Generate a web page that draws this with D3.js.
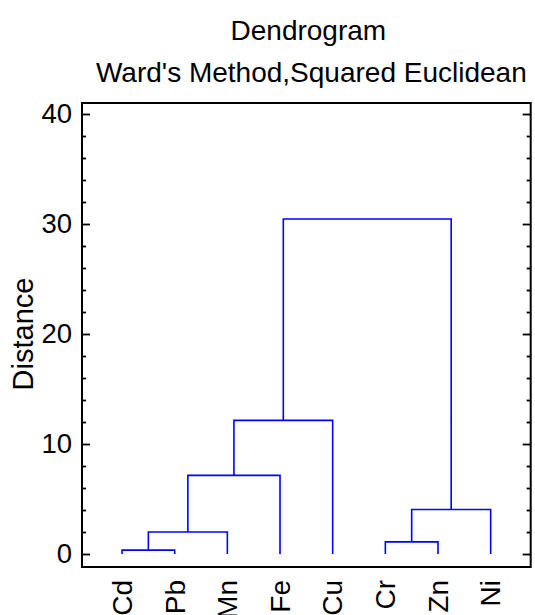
<!DOCTYPE html>
<html>
<head>
<meta charset="utf-8">
<script src="https://cdn.jsdelivr.net/npm/d3@7"></script>
<style>
  html, body { margin: 0; padding: 0; background: #fff; }
  svg { display: block; font-family: "Liberation Sans", Arial, sans-serif; }
</style>
</head>
<body>
<svg id="chart" width="535" height="615"></svg>
<script>
// Leaf order along the x axis
const leaves = ["Cd", "Pb", "Mn", "Fe", "Cu", "Cr", "Zn", "Ni"];
// Agglomeration steps: ids 0..7 are leaves, each step creates id 8, 9, ...
const mergeA = [0, 5, 8, 9, 10, 12, 13];
const mergeB = [1, 6, 2, 7, 3, 4, 11];
const mergeHeight = [0.35, 1.1, 2.0, 4.05, 7.15, 12.15, 30.45];
// Axis ticks
const majorTicks = [0, 10, 20, 30, 40];
const minorTicks = [2, 4, 6, 8, 12, 14, 16, 18, 22, 24, 26, 28, 32, 34, 36, 38];
const titleText = "Dendrogram";
const subtitleText = "Ward's Method,Squared Euclidean";
const yLabel = "Distance";

const svg = d3.select("#chart");
const plot = { left: 82, right: 530.7, top: 103, bottom: 567 };

const x = d3.scalePoint().domain(leaves).range([plot.left, plot.right]).padding(0.76);
const y = d3.scaleLinear().domain([-1.18, 41.0]).range([plot.bottom, plot.top]);

// Titles
const cx = (plot.left + plot.right) / 2;
svg.append("text").attr("x", cx + 2).attr("y", 40).attr("text-anchor", "middle")
  .attr("font-size", 28).text(titleText);
svg.append("text").attr("x", cx + 5).attr("y", 82).attr("text-anchor", "middle")
  .attr("font-size", 28).text(subtitleText);

// Y-axis title
svg.append("text")
  .attr("transform", `translate(33,${(y(0) + y(40)) / 2}) rotate(-90)`)
  .attr("text-anchor", "middle")
  .attr("font-size", 29).text(yLabel);

// Axes with inward ticks
const gL = svg.append("g").attr("transform", `translate(${plot.left},0)`)
  .call(d3.axisLeft(y).tickValues(majorTicks).tickSize(-8).tickPadding(10).tickFormat(d3.format("d")));
const gLm = svg.append("g").attr("transform", `translate(${plot.left},0)`)
  .call(d3.axisLeft(y).tickValues(minorTicks).tickSize(-4).tickFormat(""));
const gR = svg.append("g").attr("transform", `translate(${plot.right},0)`)
  .call(d3.axisRight(y).tickValues(majorTicks).tickSize(-8).tickFormat(""));
const gRm = svg.append("g").attr("transform", `translate(${plot.right},0)`)
  .call(d3.axisRight(y).tickValues(minorTicks).tickSize(-4).tickFormat(""));
[gL, gLm, gR, gRm].forEach(g => {
  g.select(".domain").remove();
  g.selectAll(".tick line").attr("stroke", "#000").attr("stroke-width", 1.8);
});
gL.selectAll(".tick text").attr("font-size", 27.5).attr("fill", "#000")
  .attr("font-family", "Liberation Sans, Arial, sans-serif");

// Frame
svg.append("rect")
  .attr("x", plot.left).attr("y", plot.top)
  .attr("width", plot.right - plot.left).attr("height", plot.bottom - plot.top)
  .attr("fill", "none").attr("stroke", "#000").attr("stroke-width", 2);

// Build node positions
const nodeX = leaves.map(l => x(l));
const nodeH = leaves.map(() => 0);
const links = [];
mergeA.forEach((a, i) => {
  const b = mergeB[i], h = mergeHeight[i];
  links.push({ x1: nodeX[a], h1: nodeH[a], x2: nodeX[b], h2: nodeH[b], h });
  nodeX.push((nodeX[a] + nodeX[b]) / 2);
  nodeH.push(h);
});

svg.append("g").selectAll("path").data(links).join("path")
  .attr("d", d => `M${d.x1},${y(d.h1)}V${y(d.h)}H${d.x2}V${y(d.h2)}`)
  .attr("fill", "none").attr("stroke", "#0000ff").attr("stroke-width", 1.6);

// Leaf labels, rotated
svg.append("g").selectAll("text").data(leaves).join("text")
  .attr("transform", d => `translate(${x(d)},580) rotate(-90)`)
  .attr("text-anchor", "end").attr("dy", "0.35em")
  .attr("font-size", 28).text(d => d);
</script>
</body>
</html>
